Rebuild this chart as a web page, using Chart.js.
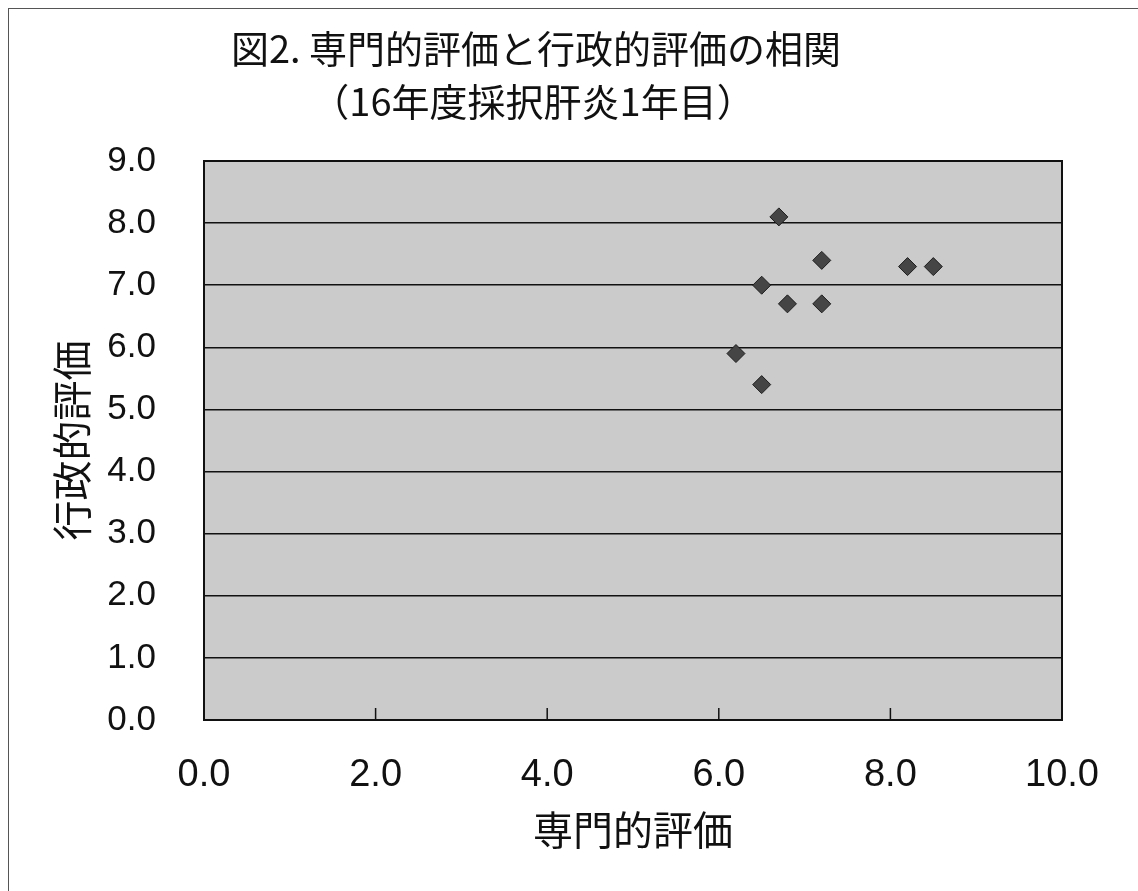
<!DOCTYPE html>
<html>
<head>
<meta charset="utf-8">
<script src="https://cdn.jsdelivr.net/npm/chart.js@4.4.1/dist/chart.umd.min.js"></script>
<style>
  html, body { margin: 0; padding: 0; background: #fff; }
  #wrap { position: relative; width: 1138px; height: 891px; }
  #frame { position: absolute; left: 8px; top: 8px; right: 0; bottom: 0;
           border-top: 1px solid #555; border-left: 1px solid #555; pointer-events: none; }
</style>
</head>
<body>
<div id="wrap">
  <canvas id="chart" width="1138" height="891"></canvas>
  <div id="frame"></div>
</div>
<script>
// 専門的評価 (x) と 行政的評価 (y)
const expertScores = [6.7, 7.2, 8.2, 8.5, 6.5, 6.8, 7.2, 6.2, 6.5];
const adminScores = [8.1, 7.4, 7.3, 7.3, 7.0, 6.7, 6.7, 5.9, 5.4];
const titleLines = ["図2. 専門的評価と行政的評価の相関", "（16年度採択肝炎1年目）"];
const xTitle = "専門的評価";
const yTitle = "行政的評価";
const xTickMarks = [2, 4, 6, 8];

const points = expertScores.map((x, i) => ({ x: x, y: adminScores[i] }));

// plot background, inner tick marks, frame and title
const decor = {
  id: "decor",
  beforeDraw(chart) {
    const { ctx, chartArea: a } = chart;
    ctx.save();
    ctx.fillStyle = "#cbcbcb";
    ctx.fillRect(a.left, a.top, a.right - a.left, a.bottom - a.top);
    ctx.restore();
  },
  beforeDatasetsDraw(chart) {
    const { ctx, chartArea: a, scales } = chart;
    ctx.save();
    ctx.strokeStyle = "#111";
    ctx.lineWidth = 1.5;
    xTickMarks.forEach((v) => {
      const px = scales.x.getPixelForValue(v);
      ctx.beginPath();
      ctx.moveTo(px, a.bottom);
      ctx.lineTo(px, a.bottom - 12);
      ctx.stroke();
    });
    ctx.lineWidth = 2;
    ctx.strokeRect(a.left, a.top, a.right - a.left, a.bottom - a.top);
    ctx.restore();
  },
  afterDraw(chart) {
    const ctx = chart.ctx;
    ctx.save();
    ctx.fillStyle = "#111";
    ctx.font = '38px "Noto Sans CJK JP"';
    ctx.textAlign = "center";
    ctx.textBaseline = "alphabetic";
    ctx.fillText(titleLines[0], 536, 63);
    ctx.fillText(titleLines[1], 533, 116);
    ctx.restore();
  },
};

new Chart(document.getElementById("chart"), {
  type: "scatter",
  data: {
    datasets: [
      {
        data: points,
        pointStyle: "rectRot",
        pointRadius: 9,
        pointHoverRadius: 9,
        backgroundColor: "#454545",
        borderColor: "#1e1e1e",
        borderWidth: 1,
      },
    ],
  },
  options: {
    responsive: false,
    animation: false,
    layout: { padding: { left: 0, top: 161, right: 76, bottom: 0 } },
    plugins: { legend: { display: false }, tooltip: { enabled: false } },
    scales: {
      x: {
        type: "linear",
        min: 0,
        max: 10,
        afterFit: (s) => { s.height = 171; },
        grid: { display: false },
        border: { display: false },
        ticks: {
          stepSize: 2,
          padding: 25,
          color: "#111",
          font: { family: '"Liberation Sans"', size: 38 },
          callback: (v) => v.toFixed(1),
        },
        title: {
          display: true,
          text: xTitle,
          color: "#111",
          font: { family: '"Noto Sans CJK JP"', size: 40 },
          padding: { top: 0, bottom: 37 },
        },
      },
      y: {
        type: "linear",
        min: 0,
        max: 9,
        afterFit: (s) => { s.width = 204; },
        grid: { color: "#111", lineWidth: 1.5, drawTicks: false },
        border: { display: false },
        ticks: {
          stepSize: 1,
          padding: 48,
          color: "#111",
          font: { family: '"Liberation Sans"', size: 35 },
          callback: (v) => v.toFixed(1),
        },
        title: {
          display: true,
          text: yTitle,
          color: "#111",
          font: { family: '"Noto Sans CJK JP"', size: 40 },
          padding: { top: 48, bottom: 0 },
        },
      },
    },
  },
  plugins: [decor],
});
</script>
</body>
</html>
